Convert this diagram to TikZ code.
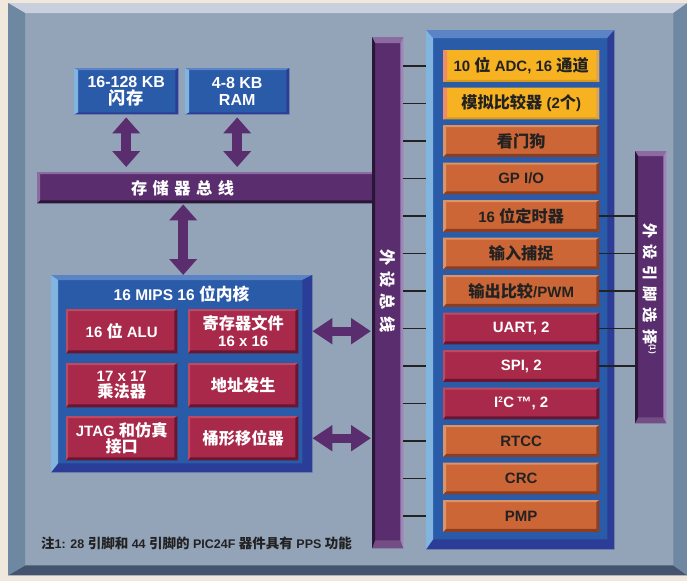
\documentclass[tikz,border=0pt]{standalone}
\usepackage{fontspec}
\setmainfont{Liberation Sans}
\newfontfamily\cjk{Noto Sans CJK SC Bold}[Scale=1.08]
\usetikzlibrary{arrows.meta}
\newcommand\C[1]{{\cjk #1}}
\definecolor{beige}{HTML}{F0E8DD}
\definecolor{face}{HTML}{93A3B8}
\definecolor{pantop}{HTML}{C9CFDC}
\definecolor{panside}{HTML}{6E88A1}
\definecolor{panbot}{HTML}{44546F}
\definecolor{blu}{HTML}{2A5BA8}
\definecolor{blulight}{HTML}{5A84C6}
\definecolor{bluleft}{HTML}{82B4E0}
\definecolor{bludark}{HTML}{2B3D96}
\definecolor{purp}{HTML}{5A2E6E}
\definecolor{purplight}{HTML}{8C6CA0}
\definecolor{purpedge}{HTML}{A084B6}
\definecolor{purpdark}{HTML}{2A1636}
\definecolor{yel}{HTML}{F6B220}
\definecolor{yelleft}{HTML}{F08C68}
\definecolor{yelright}{HTML}{D9A25E}
\definecolor{yeldark}{HTML}{D99A1C}
\definecolor{ora}{HTML}{CC6637}
\definecolor{oralight}{HTML}{DA9468}
\definecolor{oradark}{HTML}{8E3E20}
\definecolor{red}{HTML}{A8294A}
\definecolor{redlight}{HTML}{BC4A62}
\definecolor{reddark}{HTML}{6A1630}
\definecolor{txt}{HTML}{222222}
% bevel: node, ctop, cleft, cbottom, cright, wtop, wleft, wbottom, wright
\newcommand\bev[9]{%
  \fill[#2] (#1.north west) -- (#1.north east) -- ([xshift=-#9pt,yshift=-#6pt]#1.north east) -- ([xshift=#7pt,yshift=-#6pt]#1.north west) -- cycle;
  \fill[#4] (#1.south west) -- (#1.south east) -- ([xshift=-#9pt,yshift=#8pt]#1.south east) -- ([xshift=#7pt,yshift=#8pt]#1.south west) -- cycle;
  \fill[#3] (#1.north west) -- (#1.south west) -- ([xshift=#7pt,yshift=#8pt]#1.south west) -- ([xshift=#7pt,yshift=-#6pt]#1.north west) -- cycle;
  \fill[#5] (#1.north east) -- (#1.south east) -- ([xshift=-#9pt,yshift=#8pt]#1.south east) -- ([xshift=-#9pt,yshift=-#6pt]#1.north east) -- cycle;
}
\tikzset{
  box/.style={inner sep=0pt, anchor=north west, align=center, font=\bfseries\fontsize{15}{16.5}\selectfont},
  pbox/.style={box, minimum width=156pt, minimum height=31.5pt},
  ybox/.style={pbox, fill=yel, text=txt},
  obox/.style={pbox, fill=ora, text=txt},
  rbox/.style={pbox, fill=red, text=white},
  cbox/.style={box, minimum height=44pt, fill=red, text=white},
  mbox/.style={box, minimum width=104pt, minimum height=46pt, fill=blu, text=white, font=\bfseries\fontsize{16}{17}\selectfont},
  tick/.style={draw=txt, line width=1.4pt},
  dblv/.style={draw=purp, line width=10pt, {Triangle[width=27pt,length=16pt]}-{Triangle[width=27pt,length=16pt]}},
  dblh/.style={draw=purp, line width=9pt, {Triangle[width=25pt,length=20pt]}-{Triangle[width=25pt,length=20pt]}},
}
\begin{document}
\begin{tikzpicture}[x=1pt,y=-1pt]
\useasboundingbox (0,0) rectangle (687,581);
\fill[beige] (0,0) rectangle (687,581);
% panel
\node[inner sep=0, anchor=north west, minimum width=679pt, minimum height=572pt, fill=face] (panel) at (8,3) {};
\bev{panel}{pantop}{panside}{panbot}{panside}{10}{17}{10}{14}

% memory boxes
\node[mbox] (flash) at (74,68) {16-128 KB\\\C{闪存}};
\bev{flash}{blulight}{bluleft}{bludark}{bludark}{2}{4}{2}{3}
\node[mbox] (ram) at (185,68) {4-8 KB\\RAM};
\bev{ram}{blulight}{bluleft}{bludark}{bludark}{2}{4}{2}{3}

% memory bus
\node[box, minimum width=335pt, minimum height=31pt, fill=purp] (membus) at (37,172) {};
\bev{membus}{purplight}{purplight}{purpdark}{purp}{2}{3}{3}{0}
\node[box, text=white, anchor=center] (membustext) at (182.5,188) {\C{存\hspace{5.5pt}储\hspace{5.5pt}器\hspace{5.5pt}总\hspace{5.5pt}线}};

% core
\node[box, minimum width=261pt, minimum height=197pt, fill=blu] (core) at (51,275) {};
\bev{core}{blulight}{bluleft}{bludark}{bludark}{5}{7}{9}{10}
\node[box, text=white, anchor=center, font=\bfseries\fontsize{15.5}{17}\selectfont] (coretitle) at (181.5,294) {16 MIPS 16 \C{位内核}};
\node[cbox, minimum width=111pt] (alu) at (66,309) {16 \C{位} ALU};
\node[cbox, minimum width=110pt] (regfile) at (188,309) {\C{寄存器文件}\\16 x 16};
\node[cbox, minimum width=111pt] (mul) at (66,363) {17 x 17\\\C{乘法器}};
\node[cbox, minimum width=110pt] (agu) at (188,363) {\C{地址发生}};
\node[cbox, minimum width=111pt] (jtag) at (66,416) {JTAG \C{和仿真}\\\C{接口}};
\node[cbox, minimum width=110pt] (barrel) at (188,416) {\C{桶形移位器}};
\foreach \n in {alu,regfile,mul,agu,jtag,barrel}{\bev{\n}{redlight}{redlight}{reddark}{reddark}{2}{2}{3}{3}}

% peripheral bus
\node[box, minimum width=31pt, minimum height=511pt, fill=purp] (pbus) at (372,37) {};
\bev{pbus}{purplight}{purpdark}{purp!85!white}{purpedge}{6}{3}{8}{3}
\node[box, text=white, rotate=-90, anchor=center] (pbustext) at (387.5,291) {\C{外\hspace{6pt}设\hspace{6pt}总\hspace{6pt}线}};

% peripheral block
\node[box, minimum width=188pt, minimum height=519pt, fill=blu] (pblock) at (426,30) {};
\bev{pblock}{blulight}{bluleft}{bludark}{bludark}{8}{7}{10}{7}

\node[ybox] (p0) at (443,50) {10 \C{位} ADC, 16 \C{通道}};
\node[ybox] (p1) at (443,87.5) {\C{模拟比较器} (2\C{个})};
\foreach \n in {0,1}{\bev{p\n}{yel}{yelleft}{yeldark}{yelright}{1}{4}{2}{3}}
\node[obox] (p2) at (443,125) {\C{看门狗}};
\node[obox] (p3) at (443,162.5) {GP I/O};
\node[obox] (p4) at (443,200) {16 \C{位定时器}};
\node[obox] (p5) at (443,237.5) {\C{输入捕捉}};
\node[obox] (p6) at (443,275) {\C{输出比较}/PWM};
\node[rbox] (p7) at (443,312.5) {UART, 2};
\node[rbox] (p8) at (443,350) {SPI, 2};
\node[rbox] (p9) at (443,387.5) {I\textsuperscript{\fontsize{8}{8}\selectfont 2}C\,™, 2};
\node[obox] (p10) at (443,425) {RTCC};
\node[obox] (p11) at (443,462.5) {CRC};
\node[obox] (p12) at (443,500) {PMP};
\foreach \n in {2,3,4,5,6,10,11,12}{\bev{p\n}{oralight}{oralight}{oradark}{oradark}{2}{3}{3}{3}}
\foreach \n in {7,8,9}{\bev{p\n}{redlight}{redlight}{reddark}{reddark}{2}{2}{3}{3}}

% pin select
\node[box, minimum width=31pt, minimum height=272pt, fill=purp] (pinsel) at (635,151) {};
\bev{pinsel}{purplight}{purpdark}{purp!85!white}{purpedge}{5}{3}{6}{3}
\node[box, text=white, rotate=-90, anchor=center, font=\bfseries\fontsize{14}{16}\selectfont] (pintext) at (650.5,289) {\C{外\hspace{6pt}设\hspace{6pt}引\hspace{6pt}脚\hspace{6pt}选\hspace{6pt}择}\textsuperscript{\fontsize{8}{8}\selectfont(1)}};

% ticks
\foreach \n in {0,...,12}{\draw[tick] (pbus.east |- p\n.west) -- (pblock.west |- p\n.west);}
\foreach \n in {4,...,8}{\draw[tick] (p\n.east) -- (pinsel.west |- p\n.east);}

% arrows
\draw[dblv, shorten <=3pt, shorten >=5pt] (flash.south) -- (flash.south |- membus.north);
\draw[dblv, shorten <=3pt, shorten >=5pt] (ram.south) -- (ram.south |- membus.north);
\draw[dblv, shorten <=1pt, shorten >=0pt] ([xshift=1.5pt]core.north |- membus.south) -- ([xshift=1.5pt]core.north);
\draw[dblh, shorten >=1pt] (core.east |- regfile.east) -- (pbus.west |- regfile.east);
\draw[dblh, shorten >=1pt] (core.east |- barrel.east) -- (pbus.west |- barrel.east);

% footnote
\node[anchor=west, inner sep=0, text=txt, font=\bfseries\fontsize{12.5}{14}\selectfont] (note) at (41,543) {\C{注}1: 28 \C{引脚和} 44 \C{引脚的} PIC24F \C{器件具有} PPS \C{功能}};
\end{tikzpicture}
\end{document}
